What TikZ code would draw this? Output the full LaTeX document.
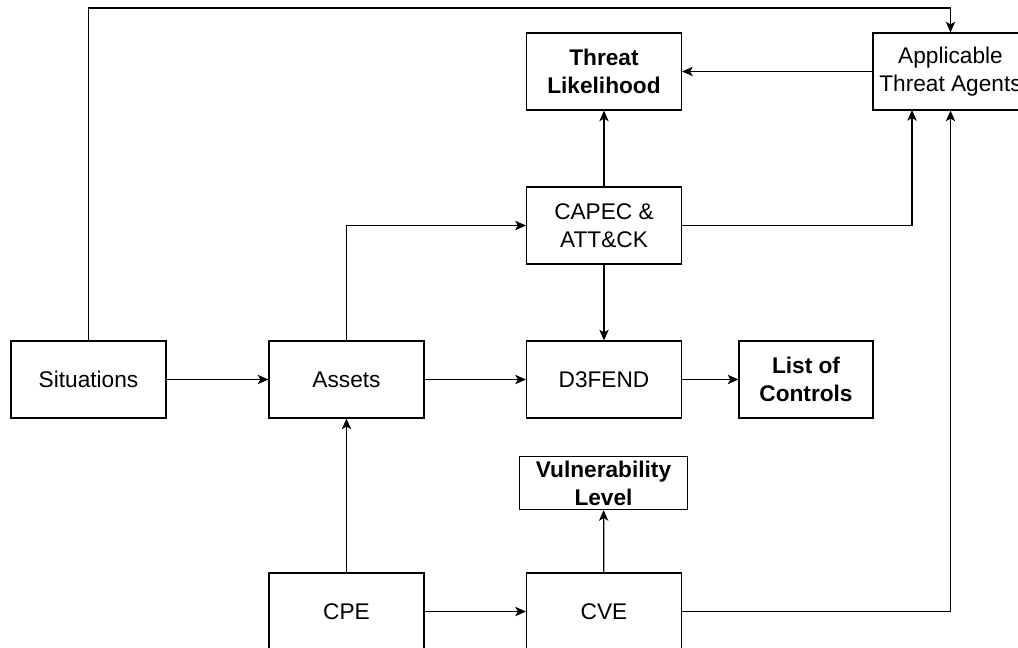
\documentclass[tikz,border=0pt]{standalone}
\usepackage{fontspec}
\setmainfont{Liberation Sans}
\usetikzlibrary{arrows.meta}

\begin{document}
\begin{tikzpicture}[%
  x=0.75pt,y=-0.75pt,
  box/.style={rectangle,draw,line width=0.9pt,align=center,inner sep=0pt,
    minimum width=116.25pt,minimum height=57.75pt,
    font=\fontsize{17}{21}\selectfont},
  result/.style={box,font=\fontsize{17}{21}\selectfont\bfseries},
  link/.style={line width=0.9pt,-{Stealth[length=8pt,width=7pt,inset=2pt]}}]
    \clip (0,0) rectangle (1018,648);
    % Boxes
    \node[box] (sit) at (88.5,379.5) {Situations};
    \node[box] (assets) at (346.5,379.5) {Assets};
    \node[box] (d3fend) at (604,379.5) {D3FEND};
    \node[result,minimum width=100.5pt] (controls) at (806,379.5) {List of\\Controls};
    \node[box] (capec) at (604,225.5) {CAPEC \&\\ATT\&CK};
    \node[result] (likeli) at (604,71.5) {Threat\\Likelihood};
    \node[box] (agents) at (950.5,71.5) {Applicable\\Threat Agents};
    \node[result,minimum width=126pt,minimum height=39.75pt] (vuln) at (603.5,483)
      {Vulnerability\\Level};
    \node[box] (cpe) at (346.5,611.5) {CPE};
    \node[box] (cve) at (604,611.5) {CVE};
    % Bends
    \coordinate (top) at (0,8);
    \coordinate (agin) at (912,110);
    % Links
    \draw[link] (sit.north) -- (sit.north |- top) -| (agents.north);
    \draw[link] (sit) -- (assets);
    \draw[link] (assets) -- (d3fend);
    \draw[link] (d3fend) -- (controls);
    \draw[link] (assets.north) |- (capec.west);
    \draw[link] (capec) -- (d3fend);
    \draw[link] (capec) -- (likeli);
    \draw[link] (capec.east) -| (agin);
    \draw[link] (agents) -- (likeli);
    \draw[link] (cpe) -- (assets);
    \draw[link] (cpe) -- (cve);
    \draw[link] (cve) -- (vuln);
    \draw[link] (cve.east) -| (agents.south);
\end{tikzpicture}
\end{document}
